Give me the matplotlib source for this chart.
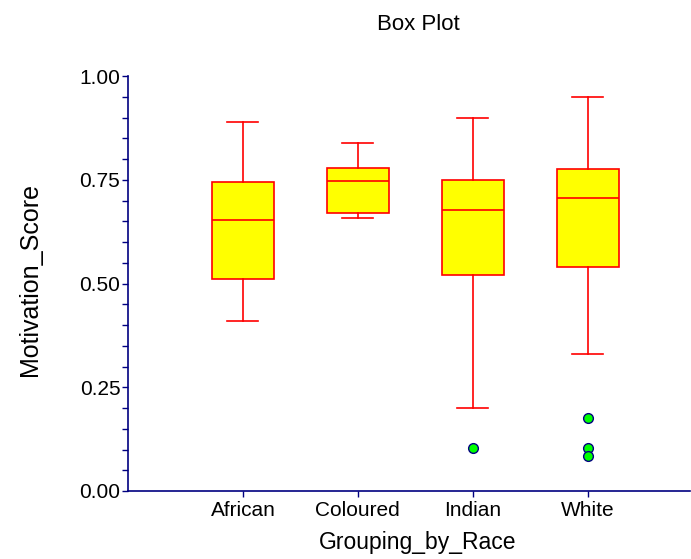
import matplotlib.pyplot as plt
from matplotlib.ticker import MultipleLocator

plt.rcParams['font.family'] = ['Liberation Sans', 'DejaVu Sans']

# values
groups = ["African", "Coloured", "Indian", "White"]
whislo = [0.410, 0.659, 0.201, 0.331]
q1 = [0.511, 0.669, 0.520, 0.540]
med = [0.652, 0.747, 0.678, 0.707]
q3 = [0.744, 0.778, 0.749, 0.777]
whishi = [0.889, 0.839, 0.898, 0.949]
outliers = [[], [], [0.104], [0.175, 0.104, 0.085]]

navy = '#000080'

stats = []
for i, g in enumerate(groups):
    stats.append({"label": g, "whislo": whislo[i], "q1": q1[i], "med": med[i],
                  "q3": q3[i], "whishi": whishi[i], "fliers": outliers[i]})

fig = plt.figure(figsize=(6.91, 5.59), dpi=100)
ax = fig.add_axes([128 / 691, 1 - 491 / 559, 562 / 691, 415 / 559])

ax.bxp(stats, positions=range(1, len(groups) + 1), widths=0.54, patch_artist=True,
       boxprops=dict(facecolor='#FFFF00', edgecolor='#FF0000', linewidth=1.2),
       medianprops=dict(color='#FF0000', linewidth=1.2),
       whiskerprops=dict(color='#FF0000', linewidth=1.2),
       capprops=dict(color='#FF0000', linewidth=1.2),
       capwidths=0.27,
       flierprops=dict(marker='o', markerfacecolor='#00FF00', markeredgecolor=navy,
                       markersize=7, markeredgewidth=1.0, linestyle='none'))

ax.set_xlim(0, 4.89)
ax.set_ylim(0, 1)
ax.yaxis.set_major_locator(MultipleLocator(0.25))
ax.yaxis.set_minor_locator(MultipleLocator(0.05))
ax.yaxis.set_major_formatter(lambda v, p: f"{v:.2f}")

for s in ['top', 'right']:
    ax.spines[s].set_visible(False)
for s in ['left', 'bottom']:
    ax.spines[s].set_color(navy)
    ax.spines[s].set_linewidth(1.2)

ax.tick_params(axis='y', which='both', color=navy, length=4.5, width=1, labelsize=15, pad=1)
ax.tick_params(axis='x', color=navy, length=4, width=1, labelsize=15, pad=3)

ax.set_xlabel("Grouping_by_Race", fontsize=16.5, va='center')
ax.xaxis.set_label_coords(0.516, -0.125)
ax.set_ylabel("Motivation_Score", fontsize=18, va='center')
ax.yaxis.set_label_coords(-0.174, 0.51)
fig.text(418 / 691, 1 - 24 / 559, "Box Plot", fontsize=16, ha='center', va='center')

fig.savefig("out.png", dpi=100)
